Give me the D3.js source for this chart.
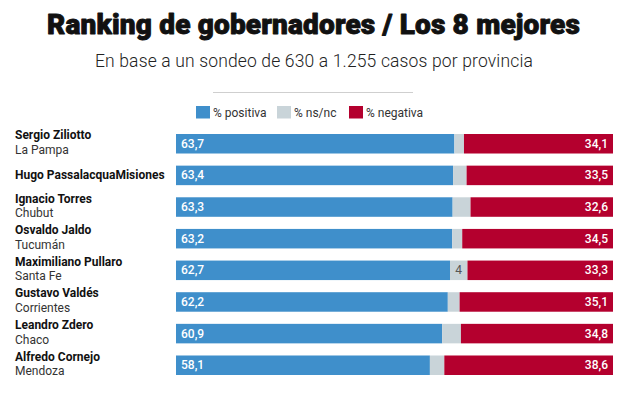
<!DOCTYPE html>
<html>
<head>
<meta charset="utf-8">
<script src="https://cdn.jsdelivr.net/npm/d3@7"></script>
<style>
  html, body { margin: 0; padding: 0; background: #fff; }
  svg { display: block; font-family: Roboto, "Liberation Sans", sans-serif; }
</style>
</head>
<body>
<svg id="chart" width="628" height="394"></svg>
<script>
const names = ["Sergio Ziliotto", "Hugo PassalacquaMisiones", "Ignacio Torres", "Osvaldo Jaldo",
               "Maximiliano Pullaro", "Gustavo Valdés", "Leandro Zdero", "Alfredo Cornejo"];
const provinces = ["La Pampa", "", "Chubut", "Tucumán", "Santa Fe", "Corrientes", "Chaco", "Mendoza"];
const positiva = [63.7, 63.4, 63.3, 63.2, 62.7, 62.2, 60.9, 58.1];
const nsnc     = [2.2, 3.1, 4.1, 2.3, 4.0, 2.7, 4.3, 3.3];
const negativa = [34.1, 33.5, 32.6, 34.5, 33.3, 35.1, 34.8, 38.6];
const nsncLabels = ["", "", "", "", "4", "", "", ""];
const seriesKeys = ["positiva", "nsnc", "negativa"];
const seriesLabels = ["% positiva", "% ns/nc", "% negativa"];
const title = "Ranking de gobernadores / Los 8 mejores";
const subtitle = "En base a un sondeo de 630 a 1.255 casos por provincia";

const colors = { positiva: "#3f8fcb", nsnc: "#c9d4d9", negativa: "#b4002e" };

const rows = names.map((n, i) => ({
  name: n, province: provinces[i],
  positiva: positiva[i], nsnc: nsnc[i], negativa: negativa[i], nsLabel: nsncLabels[i]
}));

const svg = d3.select("#chart");

function fitWidth(sel, target, str) {
  const w = sel.node().getComputedTextLength();
  sel.attr("letter-spacing", ((target - w) / str.length).toFixed(3) + "px");
}

// Title
const t = svg.append("text")
  .attr("x", 313.5).attr("y", 33.5)
  .attr("text-anchor", "middle")
  .attr("font-size", 28).attr("font-weight", 900)
  .attr("fill", "#111").attr("stroke", "#111").attr("stroke-width", 0.9)
  .attr("stroke-linejoin", "round")
  .text(title);
fitWidth(t, 533, title);

const st = svg.append("text")
  .attr("x", 314).attr("y", 66.5)
  .attr("text-anchor", "middle")
  .attr("font-size", 17.5).attr("font-weight", 300)
  .attr("fill", "#222")
  .text(subtitle);
fitWidth(st, 438, subtitle);

svg.append("line")
  .attr("x1", 213).attr("x2", 413).attr("y1", 92.5).attr("y2", 92.5)
  .attr("stroke", "#cfcfcf").attr("stroke-width", 1);

// Legend
const legendX = [196, 277, 349];
const lg = svg.append("g").selectAll("g").data(seriesKeys).join("g")
  .attr("transform", (d, i) => `translate(${legendX[i]},106)`);
lg.append("rect").attr("width", 14).attr("height", 12.5).attr("fill", d => colors[d]);
lg.append("text").attr("x", 17).attr("y", 10.5)
  .attr("font-size", 12).attr("fill", "#333")
  .text((d, i) => seriesLabels[i]);

// Scales
const x = d3.scaleLinear().domain([0, 100]).range([176, 613]);
const y = d3.scaleBand().domain(names).range([134, 375]).paddingInner(0.3835).paddingOuter(0);

const stack = d3.stack().keys(seriesKeys);
const series = stack(rows);

const g = svg.append("g");
g.selectAll("g.series").data(series).join("g")
  .attr("class", "series")
  .attr("fill", d => colors[d.key])
  .selectAll("rect").data(d => d).join("rect")
  .attr("x", d => x(d[0]))
  .attr("width", d => x(d[1]) - x(d[0]))
  .attr("y", d => y(d.data.name))
  .attr("height", y.bandwidth());

const bw = y.bandwidth();
const fmt = v => d3.format(".1f")(v).replace(".", ",");

// Value labels
g.selectAll("text.pos").data(series[0]).join("text")
  .attr("class", "pos")
  .attr("x", d => x(d[0]) + 5)
  .attr("y", d => y(d.data.name) + bw / 2 + 4)
  .attr("font-size", 12).attr("font-weight", 500).attr("fill", "#fff")
  .text(d => fmt(d.data.positiva));

g.selectAll("text.neg").data(series[2]).join("text")
  .attr("class", "neg")
  .attr("x", d => x(d[1]) - 5)
  .attr("y", d => y(d.data.name) + bw / 2 + 4)
  .attr("text-anchor", "end")
  .attr("font-size", 12).attr("font-weight", 500).attr("fill", "#fff")
  .text(d => fmt(d.data.negativa));

g.selectAll("text.ns").data(series[1].filter(d => d.data.nsLabel)).join("text")
  .attr("class", "ns")
  .attr("x", d => (x(d[0]) + x(d[1])) / 2)
  .attr("y", d => y(d.data.name) + bw / 2 + 4)
  .attr("text-anchor", "middle")
  .attr("font-size", 12).attr("fill", "#555")
  .text(d => d.data.nsLabel);

// Row labels
const lab = svg.append("g").selectAll("g").data(rows).join("g");
lab.append("text")
  .attr("x", 15)
  .attr("y", d => y(d.name) + bw / 2 + (d.province ? -4.5 : 4))
  .attr("font-size", 12).attr("font-weight", 700).attr("fill", "#111")
  .text(d => d.name);
lab.filter(d => d.province).append("text")
  .attr("x", 15)
  .attr("y", d => y(d.name) + bw / 2 + 10)
  .attr("font-size", 12).attr("fill", "#333")
  .text(d => d.province);
</script>
</body>
</html>
